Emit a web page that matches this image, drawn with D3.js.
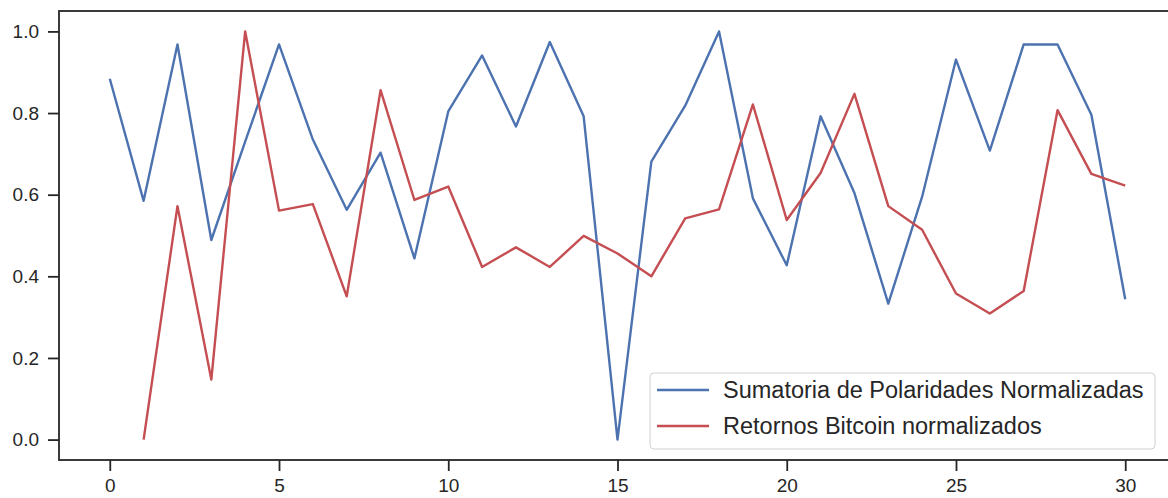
<!DOCTYPE html>
<html>
<head>
<meta charset="utf-8">
<script src="https://cdn.jsdelivr.net/npm/d3@7"></script>
<style>
  body { margin: 0; background: #fff; }
  svg { display: block; font-family: 'Liberation Sans', Arial, sans-serif; }
</style>
</head>
<body>
<div class="Canvas"></div>
<script>
const polaridades = [0.884, 0.585, 0.968, 0.489, 0.73, 0.968, 0.735, 0.563, 0.703, 0.444,
  0.804, 0.941, 0.767, 0.974, 0.792, 0.0, 0.681, 0.818, 1.0, 0.591,
  0.427, 0.792, 0.604, 0.333, 0.595, 0.931, 0.708, 0.968, 0.968, 0.796, 0.344];
const retornos = [null, 0.0, 0.572, 0.147, 1.0, 0.561, 0.577, 0.351, 0.856, 0.587,
  0.62, 0.423, 0.471, 0.423, 0.499, 0.456, 0.40, 0.542, 0.564, 0.821,
  0.538, 0.653, 0.847, 0.572, 0.514, 0.358, 0.309, 0.364, 0.807, 0.651, 0.622];
const seriesNames = ['Sumatoria de Polaridades Normalizadas', 'Retornos Bitcoin normalizados'];
const seriesColors = ['#4c72b0', '#c44e52'];
const xTicks = [0, 5, 10, 15, 20, 25, 30];
const yTicks = [0.0, 0.2, 0.4, 0.6, 0.8, 1.0];

const width = 1168;
const height = 498;
const margin = { left: 59, right: -8, top: 11, bottom: 38 };
const axisColor = '#262626';

const svg = d3.select('.Canvas').append('svg').attr('width', width).attr('height', height);

const x = d3.scaleLinear().domain([-1.5, 31.5]).range([margin.left, width - margin.right]);
const y = d3.scaleLinear().domain([-0.05, 1.05]).range([height - margin.bottom, margin.top]);

// spines
svg.append('rect')
  .attr('x', x(-1.5)).attr('y', y(1.05))
  .attr('width', x(31.5) - x(-1.5)).attr('height', y(-0.05) - y(1.05))
  .attr('fill', 'none').attr('stroke', axisColor).attr('stroke-width', 1.8);

// axes
const xAxis = svg.append('g')
  .attr('transform', `translate(0,${y(-0.05)})`)
  .call(d3.axisBottom(x).tickValues(xTicks).tickFormat(d3.format('d')).tickSize(11).tickPadding(8));
const yAxis = svg.append('g')
  .attr('transform', `translate(${x(-1.5)},0)`)
  .call(d3.axisLeft(y).tickValues(yTicks).tickFormat(d3.format('.1f')).tickSize(11).tickPadding(9));
[xAxis, yAxis].forEach((g) => {
  g.select('.domain').remove();
  g.selectAll('line').attr('stroke', axisColor).attr('stroke-width', 1.8);
  g.selectAll('text').attr('fill', axisColor).attr('font-size', '19px')
    .attr('font-family', "'Liberation Sans', Arial, sans-serif");
});

// lines
const line = d3.line()
  .defined((d) => d != null)
  .x((d, i) => x(i))
  .y((d) => y(d));

[polaridades, retornos].forEach((s, k) => {
  svg.append('path')
    .datum(s)
    .attr('fill', 'none')
    .attr('stroke', seriesColors[k])
    .attr('stroke-width', 2.4)
    .attr('stroke-linejoin', 'round')
    .attr('d', line);
});

// legend
const legend = svg.append('g').attr('transform', 'translate(650,373)');
legend.append('rect')
  .attr('width', 505).attr('height', 76).attr('rx', 4)
  .attr('fill', 'rgba(255,255,255,0.8)').attr('stroke', '#d0d0d0').attr('stroke-width', 1);
seriesNames.forEach((name, i) => {
  const ly = 17 + i * 36;
  legend.append('line')
    .attr('x1', 7).attr('x2', 59).attr('y1', ly).attr('y2', ly)
    .attr('stroke', seriesColors[i]).attr('stroke-width', 2.4);
  legend.append('text')
    .attr('x', 73).attr('y', ly)
    .attr('dy', '0.35em')
    .attr('font-size', '23.5px')
    .attr('fill', axisColor)
    .text(name);
});
</script>
</body>
</html>
